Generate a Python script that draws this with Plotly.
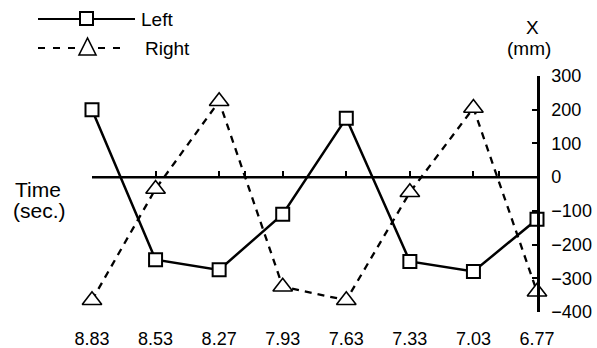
import plotly.graph_objects as go

# Time samples (seconds) shown along the bottom, and X displacement (mm)
times = ["8.83", "8.53", "8.27", "7.93", "7.63", "7.33", "7.03", "6.77"]
left_mm = [200, -245, -275, -110, 175, -250, -280, -125]
right_mm = [-365, -35, 225, -325, -365, -45, 205, -340]
y_ticks = [300, 200, 100, 0, -100, -200, -300, -400]
zero_line_ticks = [0, 1, 2, 2.4, 3, 4, 5, 6, 6.4, 7]

Y_MIN, Y_MAX = -400, 300
W, H = 597, 348
M_L, M_R, M_T, M_B = 92, 60, 76, 36
FONT = "Liberation Sans, Arial, Helvetica, sans-serif"

idx = list(range(len(times)))


def px(x):
    return (x - M_L) / (W - M_L - M_R)


def py(y):
    return (H - M_B - y) / (H - M_T - M_B)


fig = go.Figure()

# horizontal zero reference with its small upward ticks
fig.add_trace(go.Scatter(
    x=[idx[0], idx[-1]], y=[0, 0], xaxis="x2", mode="lines",
    line=dict(color="black", width=2.5), hoverinfo="skip", showlegend=False,
))

fig.add_trace(go.Scatter(
    x=idx, y=right_mm, mode="lines+markers", name="Right",
    line=dict(color="black", width=2.3, dash="7px,6px"),
    marker=dict(symbol="triangle-up", size=17, color="white",
                line=dict(color="black", width=1.6)),
    cliponaxis=False, showlegend=False,
))

fig.add_trace(go.Scatter(
    x=idx, y=left_mm, mode="lines+markers", name="Left",
    line=dict(color="black", width=2.5),
    marker=dict(symbol="square", size=13, color="white",
                line=dict(color="black", width=2)),
    cliponaxis=False, showlegend=False,
))

shapes = []
# legend keys
shapes.append(dict(type="line", xref="paper", yref="paper",
                   x0=px(38), x1=px(135), y0=py(19), y1=py(19),
                   line=dict(color="black", width=2)))
shapes.append(dict(type="rect", xref="paper", yref="paper",
                   x0=px(80), x1=px(93), y0=py(12), y1=py(25),
                   fillcolor="white", line=dict(color="black", width=2)))
shapes.append(dict(type="line", xref="paper", yref="paper",
                   x0=px(38), x1=px(128), y0=py(48), y1=py(48),
                   line=dict(color="black", width=2, dash="7px,8px")))
tri = "M {},{} L {},{} L {},{} Z".format(
    px(87.5), py(38), px(79), py(55), px(96), py(55))
shapes.append(dict(type="path", xref="paper", yref="paper", path=tri,
                   fillcolor="white", line=dict(color="black", width=1.6)))

annotations = [
    dict(text="Left", x=px(139), y=py(20), xanchor="left", yanchor="middle"),
    dict(text="Right", x=px(143), y=py(48), xanchor="left", yanchor="middle"),
    dict(text="X", x=px(532), y=py(27), xanchor="center", yanchor="middle"),
    dict(text="(mm)", x=px(529), y=py(48), xanchor="center", yanchor="middle"),
    dict(text="Time", x=px(38), y=py(189), xanchor="center", yanchor="middle",
         font=dict(size=21)),
    dict(text="(sec.)", x=px(39), y=py(210), xanchor="center", yanchor="middle",
         font=dict(size=21)),
]
for a in annotations:
    a.update(xref="paper", yref="paper", showarrow=False)
    a.setdefault("font", dict(size=19))

fig.update_layout(
    width=W, height=H,
    margin=dict(l=M_L, r=M_R, t=M_T, b=M_B, autoexpand=False),
    paper_bgcolor="white", plot_bgcolor="white",
    font=dict(family=FONT, color="black", size=18),
    showlegend=False,
    shapes=shapes,
    annotations=annotations,
    xaxis=dict(
        range=[idx[0], idx[-1]], tickvals=idx, ticktext=times,
        showgrid=False, zeroline=False, showline=False, ticks="",
        tickfont=dict(size=18), ticklabelstandoff=14, automargin=False,
    ),
    xaxis2=dict(
        overlaying="x", anchor="free",
        position=(0 - Y_MIN) / (Y_MAX - Y_MIN),
        range=[idx[0], idx[-1]], tickvals=zero_line_ticks,
        showticklabels=False, showgrid=False, zeroline=False, showline=False,
        ticks="inside", ticklen=6, tickwidth=1.5, tickcolor="black",
    ),
    yaxis=dict(
        range=[Y_MIN, Y_MAX], side="right", tickvals=y_ticks,
        ticks="inside", ticklen=5, tickwidth=2, tickcolor="black",
        showline=True, linewidth=2.5, linecolor="black",
        showgrid=False, zeroline=False, automargin=False,
        tickfont=dict(size=18), ticklabelstandoff=8,
    ),
)

fig.write_html("out.html")
